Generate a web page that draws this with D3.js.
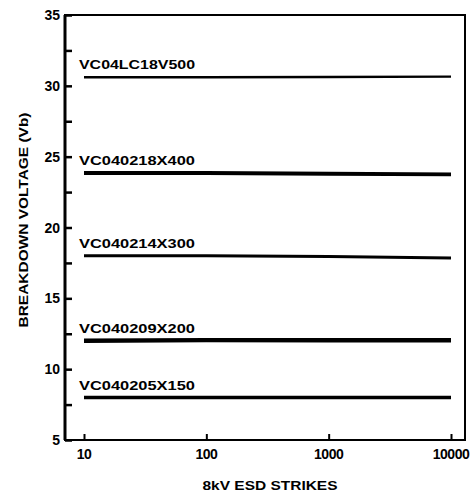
<!DOCTYPE html>
<html><head><meta charset="utf-8">
<script src="https://cdn.jsdelivr.net/npm/d3@7"></script>
<style>body{margin:0;background:#fff}svg{display:block}</style>
</head><body><svg id="c" width="476" height="493"></svg>
<script>
const strikes = [10, 100, 1000, 10000];
const seriesNames = ["VC04LC18V500", "VC040218X400", "VC040214X300", "VC040209X200", "VC040205X150"];
const vLC18 = [30.6, 30.6, 30.62, 30.65];
const v18 = [23.85, 23.85, 23.8, 23.75];
const v14 = [18.0, 18.0, 17.95, 17.85];
const v09 = [12.0, 12.05, 12.05, 12.05];
const v05 = [8.0, 8.0, 8.0, 8.0];
const seriesValues = [vLC18, v18, v14, v09, v05];
const yTicks = [5, 10, 15, 20, 25, 30, 35];
const yMinor = [7.5, 12.5, 17.5, 22.5, 27.5, 32.5];
const xTicks = [10, 100, 1000, 10000];
const xTickLabels = ["10", "100", "1000", "10000"];
const yTitle = "BREAKDOWN VOLTAGE (Vb)";
const xTitle = "8kV ESD STRIKES";

const svg = d3.select("#c");
const font = "'Liberation Sans', Arial, sans-serif";
const L = 65, R = 465, T = 15, B = 440;
const x = d3.scaleLog().domain([10, 10000]).range([84, 451]);
const y = d3.scaleLinear().domain([5, 35]).range([B, T]);
const widths = [2.5, 4, 3, 4.5, 3.5];

// frame
svg.append("rect").attr("x", L).attr("y", T).attr("width", R - L).attr("height", B - T)
  .attr("fill", "none").attr("stroke", "#000").attr("stroke-width", 2);
svg.append("line").attr("x1", L).attr("x2", L).attr("y1", T).attr("y2", B)
  .attr("stroke", "#000").attr("stroke-width", 3);

// y axis ticks inward
const yAxis = d3.axisRight(y).tickValues(yTicks.concat(yMinor)).tickSize(7).tickFormat("");
const gy = svg.append("g").attr("transform", `translate(${L},0)`).call(yAxis);
gy.select(".domain").remove();
gy.selectAll(".tick line").attr("stroke-width", 2.5);
svg.append("g").selectAll("text").data(yTicks).join("text")
  .attr("x", 60).attr("y", d => y(d) + 5).attr("text-anchor", "end")
  .attr("font-family", font).attr("font-weight", "bold").attr("font-size", 14)
  .text(d => d);

// x axis ticks inward
const xAxis = d3.axisTop(x).tickValues(xTicks).tickSize(6).tickFormat("");
const gx = svg.append("g").attr("transform", `translate(0,${B})`).call(xAxis);
gx.select(".domain").remove();
gx.selectAll(".tick line").attr("stroke-width", 2);
svg.append("g").selectAll("text").data(xTicks).join("text")
  .attr("x", d => x(d)).attr("y", 459).attr("text-anchor", "middle")
  .attr("font-family", font).attr("font-weight", "bold").attr("font-size", 14)
  .attr("letter-spacing", -0.5)
  .text((d, i) => xTickLabels[i]);

// titles
svg.append("text").attr("x", 270).attr("y", 490).attr("text-anchor", "middle")
  .attr("font-family", font).attr("font-weight", "bold").attr("font-size", 13)
  .attr("textLength", 135).attr("lengthAdjust", "spacingAndGlyphs").text(xTitle);
svg.append("text").attr("transform", "translate(28,220) rotate(-90)").attr("text-anchor", "middle")
  .attr("font-family", font).attr("font-weight", "bold").attr("font-size", 13)
  .attr("textLength", 215).attr("lengthAdjust", "spacingAndGlyphs").text(yTitle);

// series
const line = d3.line().x((d, i) => x(strikes[i])).y(d => y(d));
seriesValues.forEach((vals, k) => {
  svg.append("path").attr("d", line(vals)).attr("fill", "none")
    .attr("stroke", "#000").attr("stroke-width", widths[k]);
  svg.append("text").attr("x", 79).attr("y", y(vals[0]) - 8)
    .attr("font-family", font).attr("font-weight", "bold").attr("font-size", 13)
    .attr("textLength", 116).attr("lengthAdjust", "spacingAndGlyphs")
    .text(seriesNames[k]);
});
</script></body></html>
